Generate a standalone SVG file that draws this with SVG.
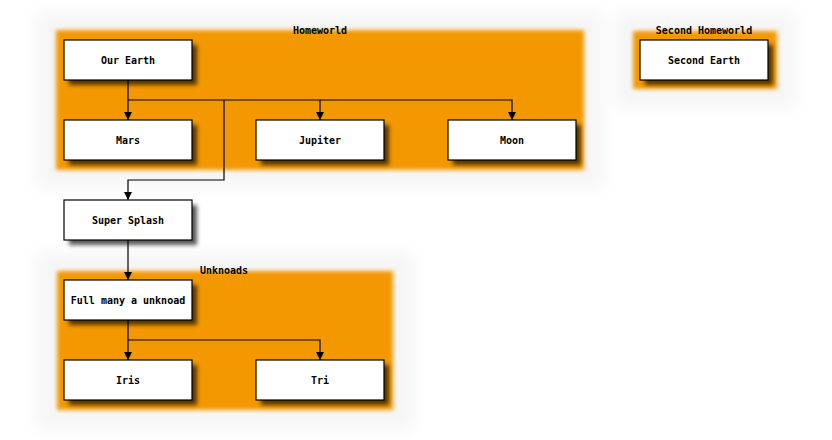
<svg xmlns="http://www.w3.org/2000/svg" width="832" height="440" viewBox="0 0 832 440">
<style>
.faint{fill:#000;opacity:0.035}
.cl{fill:#F39800}
.node rect.box{fill:#fff;stroke:#000;stroke-width:1.2}
.sh{fill:#000;opacity:0.65}
text{font-family:"DejaVu Sans Mono","Liberation Mono",monospace;font-weight:bold;font-size:10px;text-anchor:middle;fill:#000}
.edge{fill:none;stroke:#000;stroke-width:1.2}
</style>
<defs>
<filter id="bigblur" x="-20%" y="-30%" width="140%" height="160%"><feGaussianBlur stdDeviation="8"/></filter>
<filter id="cblur" x="-10%" y="-20%" width="120%" height="140%"><feGaussianBlur stdDeviation="2"/></filter>
<filter id="sblur" x="-20%" y="-40%" width="140%" height="180%"><feGaussianBlur stdDeviation="2"/></filter>
<marker id="arr" viewBox="0 0 8 8" refX="8" refY="4" markerWidth="8" markerHeight="8" markerUnits="userSpaceOnUse" orient="auto">
<path d="M0,0 L8,4 L0,8 Z" fill="#000"/>
</marker>
</defs>
<rect width="832" height="440" fill="#fff"/>
<g id="cluster-homeworld">
<rect class="faint" x="36" y="12" width="568" height="176" filter="url(#bigblur)"/>
<rect class="cl" x="56" y="30" width="528" height="140" filter="url(#cblur)"/>
<text x="320" y="34">Homeworld</text>
</g>
<g id="cluster-second">
<rect class="faint" x="614" y="12" width="182" height="96" filter="url(#bigblur)"/>
<rect class="cl" x="633" y="31" width="144" height="58" filter="url(#cblur)"/>
<text x="704" y="34">Second Homeworld</text>
</g>
<g id="cluster-unknoads">
<rect class="faint" x="36" y="252" width="378" height="178" filter="url(#bigblur)"/>
<rect class="cl" x="57" y="271" width="336" height="139" filter="url(#cblur)"/>
<text x="224" y="274">Unknoads</text>
</g>
<g id="connectors">
<path class="edge" d="M128,80 V120" marker-end="url(#arr)"/>
<path class="edge" d="M128,100 H320 V120" marker-end="url(#arr)"/>
<path class="edge" d="M320,100 H512 V120" marker-end="url(#arr)"/>
<path class="edge" d="M224,100 V180 H128 V200" marker-end="url(#arr)"/>
<path class="edge" d="M128,240 V280" marker-end="url(#arr)"/>
<path class="edge" d="M128,320 V360" marker-end="url(#arr)"/>
<path class="edge" d="M128,340 H320 V360" marker-end="url(#arr)"/>
</g>
<g id="node-our-earth" class="node"><rect class="sh" x="69" y="45" width="128" height="40" filter="url(#sblur)"/><rect class="box" x="64" y="40" width="128" height="40"/><text x="128" y="64">Our Earth</text></g>
<g id="node-mars" class="node"><rect class="sh" x="69" y="125" width="128" height="40" filter="url(#sblur)"/><rect class="box" x="64" y="120" width="128" height="40"/><text x="128" y="144">Mars</text></g>
<g id="node-jupiter" class="node"><rect class="sh" x="261" y="125" width="128" height="40" filter="url(#sblur)"/><rect class="box" x="256" y="120" width="128" height="40"/><text x="320" y="144">Jupiter</text></g>
<g id="node-moon" class="node"><rect class="sh" x="453" y="125" width="128" height="40" filter="url(#sblur)"/><rect class="box" x="448" y="120" width="128" height="40"/><text x="512" y="144">Moon</text></g>
<g id="node-second-earth" class="node"><rect class="sh" x="645" y="45" width="128" height="40" filter="url(#sblur)"/><rect class="box" x="640" y="40" width="128" height="40"/><text x="704" y="64">Second Earth</text></g>
<g id="node-super-splash" class="node"><rect class="sh" x="69" y="205" width="128" height="40" filter="url(#sblur)" opacity="0.35"/><rect class="box" x="64" y="200" width="128" height="40"/><text x="128" y="224">Super Splash</text></g>
<g id="node-full-many" class="node"><rect class="sh" x="69" y="285" width="128" height="40" filter="url(#sblur)"/><rect class="box" x="64" y="280" width="128" height="40"/><text x="128" y="304">Full many a unknoad</text></g>
<g id="node-iris" class="node"><rect class="sh" x="69" y="365" width="128" height="40" filter="url(#sblur)"/><rect class="box" x="64" y="360" width="128" height="40"/><text x="128" y="384">Iris</text></g>
<g id="node-tri" class="node"><rect class="sh" x="261" y="365" width="128" height="40" filter="url(#sblur)"/><rect class="box" x="256" y="360" width="128" height="40"/><text x="320" y="384">Tri</text></g>
</svg>
